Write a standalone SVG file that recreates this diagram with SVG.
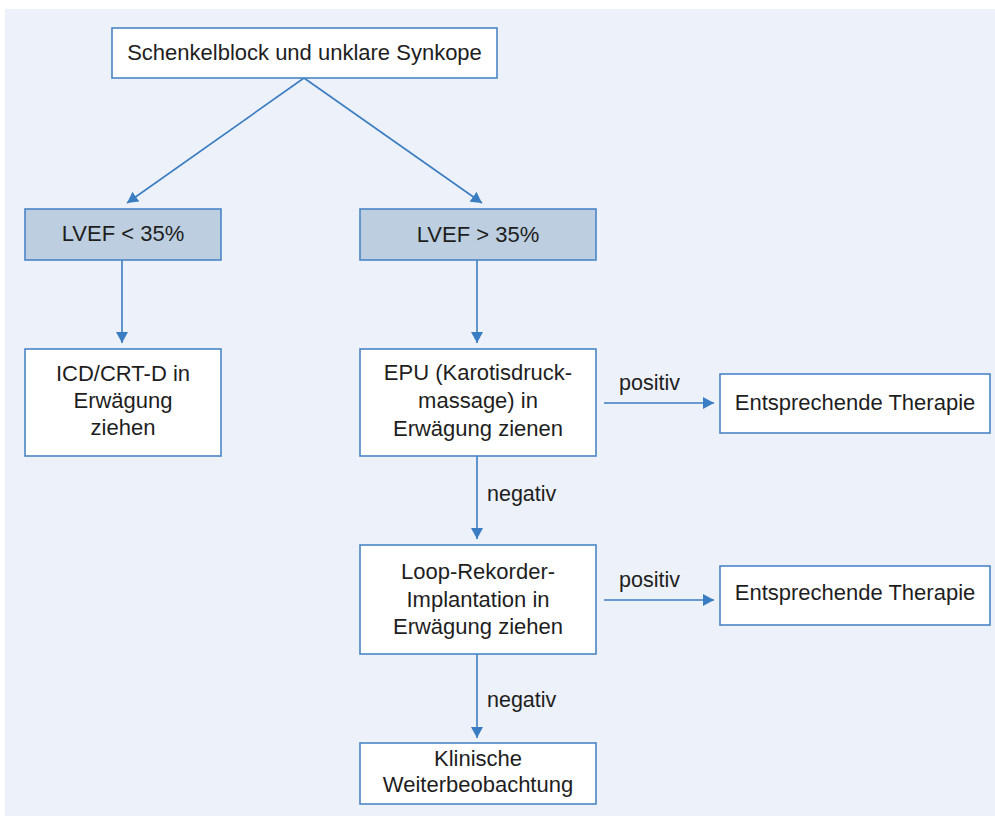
<svg xmlns="http://www.w3.org/2000/svg" width="995" height="816" viewBox="0 0 995 816">
<defs>
<style>
.box{fill:#ffffff;stroke:#4a86c6;stroke-width:1.6}
.hl{fill:#bccedf;stroke:#4a86c6;stroke-width:1.6}
.t{font-family:"Liberation Sans",Arial,sans-serif;font-size:22px;fill:#1e1e1e;text-anchor:middle}
.lbl{font-family:"Liberation Sans",Arial,sans-serif;font-size:21.5px;fill:#1e1e1e}
.c{stroke:#3b7dc2;stroke-width:1.6;fill:none;marker-end:url(#ah)}
</style>
<marker id="ah" markerUnits="userSpaceOnUse" markerWidth="12" markerHeight="12" refX="11" refY="6" orient="auto">
<path d="M0,0 L11,6 L0,12 z" fill="#3b7dc2"/>
</marker>
</defs>
<rect x="5" y="9" width="990" height="807" fill="#edf1f9"/>
<g id="connectors">
<line class="c" x1="304" y1="78" x2="127" y2="203"/>
<line class="c" x1="304" y1="78" x2="482" y2="203"/>
<line class="c" x1="122" y1="260" x2="122" y2="343"/>
<line class="c" x1="477" y1="260" x2="477" y2="343"/>
<line class="c" x1="604" y1="403" x2="714" y2="403"/>
<line class="c" x1="477" y1="456" x2="477" y2="539"/>
<line class="c" x1="604" y1="600" x2="714" y2="600"/>
<line class="c" x1="477" y1="654" x2="477" y2="738"/>
<text class="lbl" x="619" y="390">positiv</text>
<text class="lbl" x="487" y="501">negativ</text>
<text class="lbl" x="619" y="587">positiv</text>
<text class="lbl" x="487" y="707">negativ</text>
</g>
<g id="start">
<rect class="box" x="112" y="28" width="385" height="50"/>
<text class="t" x="304.5" y="60">Schenkelblock und unklare Synkope</text>
</g>
<g id="lvef-low">
<rect class="hl" x="25" y="209" width="196" height="51"/>
<text class="t" x="123" y="241">LVEF &lt; 35%</text>
</g>
<g id="lvef-high">
<rect class="hl" x="360" y="209" width="236" height="51"/>
<text class="t" x="478" y="242">LVEF &gt; 35%</text>
</g>
<g id="icd">
<rect class="box" x="25" y="349" width="196" height="107"/>
<text class="t" x="123" y="381">ICD/CRT-D in</text>
<text class="t" x="123" y="408">Erwägung</text>
<text class="t" x="123" y="435">ziehen</text>
</g>
<g id="epu">
<rect class="box" x="360" y="349" width="236" height="107"/>
<text class="t" x="478" y="380">EPU (Karotisdruck-</text>
<text class="t" x="478" y="408">massage) in</text>
<text class="t" x="478" y="436">Erwägung zienen</text>
</g>
<g id="therapie1">
<rect class="box" x="720" y="374" width="270" height="59"/>
<text class="t" x="855" y="410">Entsprechende Therapie</text>
</g>
<g id="loop">
<rect class="box" x="360" y="545" width="236" height="109"/>
<text class="t" x="478" y="579">Loop-Rekorder-</text>
<text class="t" x="478" y="607">Implantation in</text>
<text class="t" x="478" y="634">Erwägung ziehen</text>
</g>
<g id="therapie2">
<rect class="box" x="720" y="566" width="270" height="59"/>
<text class="t" x="855" y="600">Entsprechende Therapie</text>
</g>
<g id="klinisch">
<rect class="box" x="360" y="743" width="236" height="61"/>
<text class="t" x="478" y="766">Klinische</text>
<text class="t" x="478" y="792">Weiterbeobachtung</text>
</g>
</svg>
